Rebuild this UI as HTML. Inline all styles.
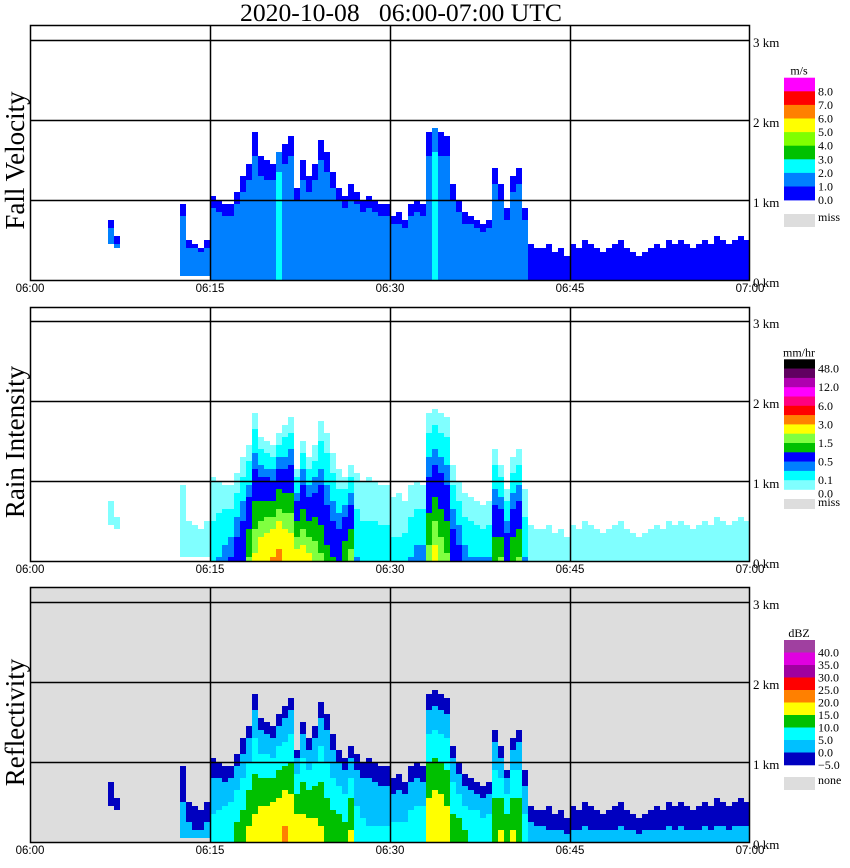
<!DOCTYPE html>
<html><head><meta charset="utf-8">
<style>
html,body{margin:0;padding:0;background:#fff;}
svg{display:block;}
text{font-family:"Liberation Serif",serif;fill:#000;}
.tk{font-family:"Liberation Sans",sans-serif;font-size:11.5px;}
.lg{font-family:"Liberation Serif",serif;font-size:12px;}
</style></head>
<body>
<svg id="chart" width="850" height="868" viewBox="0 0 850 868" xmlns="http://www.w3.org/2000/svg">
<text x="401" y="21" font-size="25" text-anchor="middle" style="white-space:pre" xml:space="preserve" textLength="322" lengthAdjust="spacingAndGlyphs">2020-10-08   06:00-07:00 UTC</text>
<g id="panels"></g>
</svg>
<script>
// ---- data (30-second columns, 06:00 to 07:00) ----
const timeTicks = ["06:00","06:15","06:30","06:45","07:00"];
const tickMinutes = [0,15,30,45,60];
const kmTicks = [0,1,2,3];
const kmLabels = ["0 km","1 km","2 km","3 km"];
const colStepMin = 0.5;
// echo top height (km) for each column
const echoTop = [0,0,0,0,0,0,0,0,0,0,0,0,0,0.75,0.55,0,0,0,0,0,0,0,0,0,0,0.95,0.5,0.45,0.4,0.5,
1.05,1.0,0.95,0.95,1.1,1.3,1.45,1.85,1.55,1.5,1.45,1.6,1.7,1.8,1.15,1.5,1.3,1.45,1.75,1.6,
1.35,1.15,1.05,1.2,1.1,1.0,1.05,1.0,0.95,0.95,0.8,0.85,0.75,0.95,1.0,0.95,1.85,1.9,1.85,1.8,
1.2,1.0,0.85,0.8,0.75,0.7,0.75,1.4,1.2,0.9,1.3,1.4,0.9,0.45,0.4,0.4,0.45,0.35,0.4,0.3,
0.45,0.4,0.5,0.45,0.4,0.35,0.4,0.45,0.5,0.4,0.35,0.3,0.35,0.4,0.45,0.4,0.5,0.45,0.5,0.45,
0.4,0.45,0.5,0.45,0.55,0.5,0.45,0.5,0.55,0.5];
// echo base height (km)
const echoBase = [0,0,0,0,0,0,0,0,0,0,0,0,0,0.45,0.4,0,0,0,0,0,0,0,0,0,0,0.05,0.05,0.05,0.05,0.05,
0,0,0,0,0,0,0,0,0,0,0,0,0,0,0,0,0,0,0,0,0,0,0,0,0,0,0,0,0,0,0,0,0,0,0,0,0,0,0,0,
0,0,0,0,0,0,0,0,0,0,0,0,0,0,0,0,0,0,0,0,0,0,0,0,0,0,0,0,0,0,0,0,0,0,0,0,0,0,0,0,
0,0,0,0,0,0,0,0,0,0];
// low-level reflectivity core (dBZ)
const dbzCore = [0,0,0,0,0,0,0,0,0,0,0,0,0,3,3,0,0,0,0,0,0,0,0,0,0,2,2,1,1,2,
7,8,9,10,12,13,16,17,19,19,20,20,21,20,19,18,18,17,16,14,13,13,12,16,8,7,6,6,6,6,
7,7,7,8,9,9,19,20,20,18,13,13,11,10,10,9,9,15,16,15,16,15,8,2,2,2,1,1,1,1,
1,1,1,1,1,1,1,1,1,1,1,1,1,1,1,1,1,1,1,1,1,1,1,1,1,1,1,1,1,1];
// rain intensity core (mm/hr)
const rainCore = [0,0,0,0,0,0,0,0,0,0,0,0,0,0.05,0.05,0,0,0,0,0,0,0,0,0,0,0.05,0.05,0.05,0.05,0.05,
0.2,0.3,0.4,0.5,0.8,1.0,1.6,2.2,2.8,3.0,3.2,3.5,3.0,2.8,2.5,2.5,2.2,2.0,1.6,1.2,1.0,0.9,1.5,1.8,0.3,0.2,0.2,0.2,0.2,0.2,
0.15,0.15,0.2,0.3,0.4,0.4,1.8,2.4,2.0,1.6,0.9,0.7,0.4,0.3,0.3,0.3,0.3,1.4,1.6,1.0,1.5,1.6,0.3,0.05,0.05,0.05,0.05,0.05,0.05,0.05,
0.05,0.05,0.05,0.05,0.05,0.05,0.05,0.05,0.05,0.05,0.05,0.05,0.05,0.05,0.05,0.05,0.05,0.05,0.05,0.05,0.05,0.05,0.05,0.05,0.05,0.05,0.05,0.05,0.05,0.05];
// fall velocity core (m/s)
const velCore = [0,0,0,0,0,0,0,0,0,0,0,0,0,1.5,1.5,0,0,0,0,0,0,0,0,0,0,1.5,1.5,1.5,1.5,1.5,
1.5,1.5,1.5,1.5,1.6,1.6,1.7,1.7,1.7,1.8,1.8,2.1,1.8,1.8,1.8,1.7,1.7,1.7,1.7,1.7,1.6,1.6,1.6,1.5,1.5,1.5,1.5,1.5,1.5,1.5,
1.5,1.5,1.5,1.5,1.5,1.5,1.8,2.1,1.8,1.7,1.5,1.5,1.5,1.5,1.5,1.5,1.5,1.5,1.5,1.5,1.5,1.5,1.5,0.8,0.8,0.8,0.8,0.8,0.8,0.8,
0.8,0.8,0.8,0.8,0.8,0.8,0.8,0.8,0.8,0.8,0.8,0.8,0.8,0.8,0.8,0.8,0.8,0.8,0.8,0.8,0.8,0.8,0.8,0.8,0.8,0.8,0.8,0.8,0.8,0.8];
// colour scales
const velBounds = [0,1,2,3,4,5,6,7,8];
const velColors = ["#0000ff","#0080ff","#00ffff","#00c000","#80ff00","#ffff00","#ff8000","#ff0000","#ff00ff"];
const velLabels = ["8.0","7.0","6.0","5.0","4.0","3.0","2.0","1.0","0.0"];
const rainBounds = [0,0.1,0.3,0.5,1.0,1.5,2.0,3.0,4.5,6.0,9.0,12.0,24.0,48.0];
const rainColors = ["#80ffff","#00ffff","#0080ff","#0000ff","#00c000","#80ff40","#ffff00","#ff8000","#ff0000","#ff0080","#ff00ff","#b000b0","#600060","#000000"];
const rainLabels = ["48.0","12.0","6.0","3.0","1.5","0.5","0.1","0.0"];
const dbzBounds = [-5,0,5,10,15,20,25,30,35,40];
const dbzColors = ["#0000c0","#00c0ff","#00ffff","#00c000","#ffff00","#ff8000","#ff0000","#a000a0","#e000e0","#a040a0"];
const dbzLabels = ["40.0","35.0","30.0","25.0","20.0","15.0","10.0","5.0","0.0","\u22125.0"];

const NS="http://www.w3.org/2000/svg";
const X0=30, X1=750;
function xScale(min){return X0+(X1-X0)*min/60;}
function mk(tag,attrs,parent){const e=document.createElementNS(NS,tag);for(const k in attrs)e.setAttribute(k,attrs[k]);parent.appendChild(e);return e;}
function colorFor(v,bounds,colors){let c=null;for(let i=0;i<bounds.length;i++){if(v>=bounds[i])c=colors[i];}return c;}

const panels=[
 {name:"fall-velocity",title:"Fall Velocity",top:25,zero:280,bg:"#ffffff",core:velCore,bounds:velBounds,colors:velColors,
  prof:(c,r)=> r<0.85?c:c*0.55, unit:"m/s",lgTop:77.7,lgBand:13.6,labels:velLabels,miss:"miss",missY:214,missH:13,labelMode:"edge"},
 {name:"rain-intensity",title:"Rain Intensity",top:307,zero:561,bg:"#ffffff",core:rainCore,bounds:rainBounds,colors:rainColors,
  prof:(c,r)=> Math.max(0.02,c*Math.pow(1-r,1.6)+0.03), unit:"mm/hr",lgTop:359.3,lgBand:9.3,labels:rainLabels,miss:"miss",missY:499,missH:10,labelMode:"rain"},
 {name:"reflectivity",title:"Reflectivity",top:587,zero:842,bg:"#dddddd",core:dbzCore,bounds:dbzBounds,colors:dbzColors,
  prof:(c,r)=> c-(c+3)*Math.pow(r,1.4), unit:"dBZ",lgTop:640,lgBand:12.5,labels:dbzLabels,miss:"none",missY:777,missH:13,labelMode:"edge"}
];
const root=document.getElementById('panels');
panels.forEach(p=>{
 const g=mk('g',{},root);
 
 
 const yScale=km=>p.zero-80*km;
 const bg=mk('rect',{x:X0,y:p.top,width:X1-X0,height:p.zero-p.top,fill:p.bg},g);
 
 
 const cells=mk('g',{'shape-rendering':'crispEdges'},g);
 
 
 const dh=0.05;
 for(let i=0;i<echoTop.length;i++){
  const top=echoTop[i]; if(top<=0) continue;
  const xa=xScale(i*colStepMin), xb=xScale((i+1)*colStepMin);
  for(let h=echoBase[i];h<top-1e-6;h+=dh){
   const r=(h+dh/2)/top;
   const v=p.prof(p.core[i],r);
   const col=colorFor(v,p.bounds,p.colors); if(!col) continue;
   const hh=Math.min(dh,top-h);
   const rc=mk('rect',{x:xa,y:yScale(h+hh),width:xb-xa,height:yScale(h)-yScale(h+hh),fill:col},cells);
   
   
  }
 }
 kmTicks.forEach((k,j)=>{
  if(k>0){const l=mk('line',{x1:X0,x2:X1,y1:yScale(k)+0.5,y2:yScale(k)+0.5,stroke:'#000','stroke-width':1.5},g);
   
   }
  const t=mk('text',{x:X1+3,y:yScale(k)+7,'font-size':'13'},g); t.textContent=kmLabels[j];
  
  
 });
 tickMinutes.forEach((m,j)=>{
  if(m>0&&m<60){const l=mk('line',{x1:xScale(m)+0.5,x2:xScale(m)+0.5,y1:p.top,y2:p.zero,stroke:'#000','stroke-width':1.5},g);
   
   }
  const t=mk('text',{x:xScale(m),y:p.zero+12,'text-anchor':'middle','class':'tk'},g); t.textContent=timeTicks[j];
  
  
 });
 const fr=mk('rect',{x:X0+0.5,y:p.top+0.5,width:X1-X0-1,height:p.zero-p.top,fill:'none',stroke:'#000','stroke-width':1.5},g);
 
 
 const cy=(p.top+p.zero)/2+8;
 const yt=mk('text',{x:24,y:cy,'font-size':'27','text-anchor':'middle',transform:`rotate(-90 24 ${cy})`},g);
 yt.textContent=p.title;
 
 
 const lg=mk('g',{},g);
 
 
 const n=p.colors.length;
 const un=mk('text',{x:799,y:p.lgTop-3,'text-anchor':'middle','class':'lg','font-size':'11'},lg); un.textContent=p.unit;
 
 
 for(let b=0;b<n;b++){
  const col=p.colors[n-1-b];
  const r=mk('rect',{x:784,y:p.lgTop+b*p.lgBand,width:31,height:p.lgBand+0.3,fill:col},lg);
  
  
 }
 p.labels.forEach((lab,j)=>{
  let y;
  if(p.labelMode==='rain'){ y=p.lgTop+(2*j+1)*p.lgBand+4; if(j===p.labels.length-1)y=p.lgTop+n*p.lgBand+8; }
  else y=p.lgTop+(j+1)*p.lgBand+4;
  const t=mk('text',{x:818,y:y,'class':'lg'},lg); t.textContent=lab;
  
  
 });
 const ms=mk('rect',{x:784,y:p.missY,width:31,height:p.missH,fill:'#dddddd'},lg);
 
 
 const mt=mk('text',{x:818,y:p.missY+7,'class':'lg'},lg); mt.textContent=p.miss;
 
 
});
</script>
</body></html>
